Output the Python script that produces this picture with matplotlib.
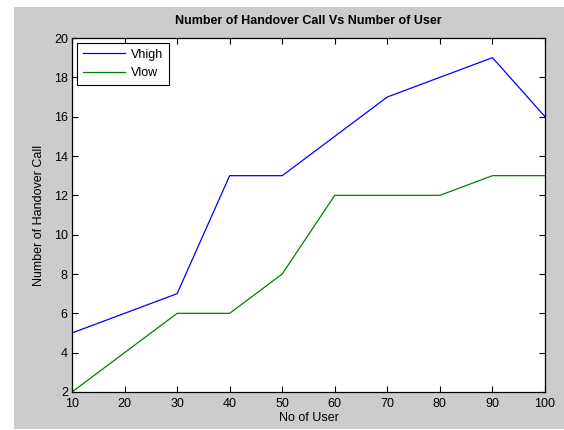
import matplotlib
matplotlib.use("Agg")
import matplotlib.pyplot as plt

# Data
users = [10, 20, 30, 40, 50, 60, 70, 80, 90, 100]
vhigh = [5, 6, 7, 13, 13, 15, 17, 18, 19, 16]
vlow = [2, 4, 6, 6, 8, 12, 12, 12, 13, 13]
yticks = [2, 4, 6, 8, 10, 12, 14, 16, 18, 20]

plt.rcParams['font.family'] = ['Liberation Sans', 'DejaVu Sans']

W, H = 564, 430
fig = plt.figure(figsize=(W / 100, H / 100), dpi=100, facecolor='white')

# gray MATLAB-like figure panel (leaves a thin white strip top/left)
fig.patches.append(plt.Rectangle((14 / W, 1 / H), 1 - 14 / W, (H - 8) / H,
                                 transform=fig.transFigure, facecolor='#cccccc',
                                 edgecolor='none', zorder=-10))

ax = fig.add_axes([72 / W, 1 - 392 / H, (545 - 72) / W, (392 - 38) / H])
ax.plot(users, vhigh, color='#0000ff', lw=0.9, label='Vhigh')
ax.plot(users, vlow, color='#008000', lw=0.9, label='Vlow')

ax.set_xlim(10, 100)
ax.set_ylim(2, 20)
ax.set_xticks(users)
ax.set_yticks(yticks)
ax.tick_params(direction='in', length=4, width=0.8, top=True, right=True,
               labelsize=9, pad=3)
ax.tick_params(axis='x', pad=4)
for s in ax.spines.values():
    s.set_linewidth(0.9)

ax.set_title('Number of Handover Call Vs Number of User', fontsize=9,
             fontweight='bold', pad=10)
ax.set_xlabel('No of User', fontsize=9, labelpad=2)
ax.set_ylabel('Number of Handover Call', fontsize=9, labelpad=6)

leg = ax.legend(loc='upper left', fontsize=9, fancybox=False, framealpha=1,
                edgecolor='black', handlelength=3.4, borderaxespad=0.4,
                labelspacing=0.5, handletextpad=0.5, borderpad=0.45)
leg.get_frame().set_linewidth(0.8)

fig.savefig('out.png', dpi=100, facecolor=fig.get_facecolor())
